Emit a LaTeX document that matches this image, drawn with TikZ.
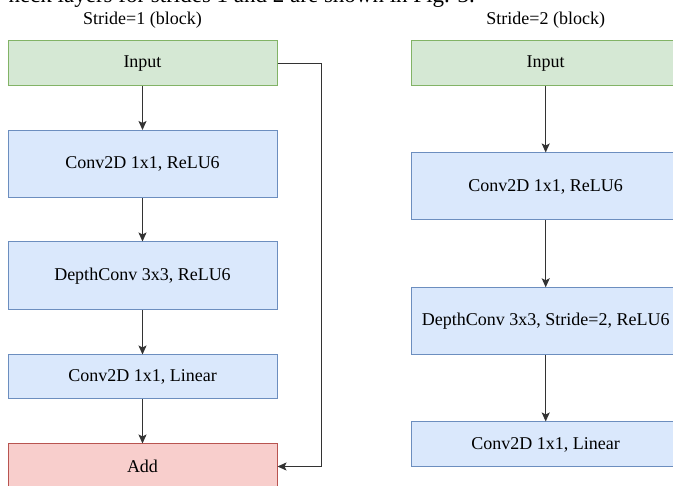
\documentclass[tikz,border=0pt]{standalone}
\usepackage{fontspec}
\setmainfont{Liberation Serif}
\usetikzlibrary{arrows.meta}
\definecolor{gfill}{HTML}{D5E8D4}\definecolor{gline}{HTML}{82B366}
\definecolor{bfill}{HTML}{DAE8FC}\definecolor{bline}{HTML}{6C8EBF}
\definecolor{rfill}{HTML}{F8CECC}\definecolor{rline}{HTML}{B85450}
\definecolor{conn}{HTML}{333333}
\tikzset{
  box/.style={rectangle, draw, line width=1pt, minimum width=269pt, inner sep=0pt,
    font=\fontsize{18}{21}\selectfont},
  inbox/.style={box, fill=gfill, draw=gline},
  opbox/.style={box, fill=bfill, draw=bline},
  addbox/.style={box, fill=rfill, draw=rline},
  title/.style={anchor=base, inner sep=0pt, font=\fontsize{18}{21}\selectfont},
  flow/.style={draw=conn, line width=1.3pt, -{Stealth[length=9pt,width=8pt,inset=2pt]}}
}
\begin{document}
\begin{tikzpicture}[x=1pt,y=-1pt]
\useasboundingbox (0,0) rectangle (673,486);
\clip (0,0) rectangle (673,486);
% clipped text line from the page above
\node[anchor=base east, inner sep=0pt, font=\fontsize{23}{26}\selectfont] (para) at (475,2.5) {neck layers for strides 1 and 2 are shown in Fig. 3.};
% titles
\node[title] (t1) at (142.5,25) {Stride=1 (block)};
\node[title] (t2) at (545.7,25) {Stride=2 (block)};
% left column
\node[inbox, minimum height=45pt] (in1) at (142.5,63.5) {Input};
\node[opbox, minimum height=67.5pt] (c1) at (142.5,164.25) {Conv2D 1x1, ReLU6};
\node[opbox, minimum height=68pt] (d1) at (142.5,276) {DepthConv 3x3, ReLU6};
\node[opbox, minimum height=44pt] (l1) at (142.5,377) {Conv2D 1x1, Linear};
\node[addbox, minimum height=45pt] (add) at (142.5,466.5) {Add};
\coordinate (k1) at (321.7,63.5);
\coordinate (k2) at (321.7,466.5);
\draw[flow] (in1) -- (c1);
\draw[flow] (c1) -- (d1);
\draw[flow] (d1) -- (l1);
\draw[flow] (l1) -- (add);
\draw[flow] (in1.east) -- (k1) -- (k2) -- (add.east);
% right column
\node[inbox, minimum height=45pt] (in2) at (545.7,63.5) {Input};
\node[opbox, minimum height=67pt] (c2) at (545.7,186.5) {Conv2D 1x1, ReLU6};
\node[opbox, minimum height=67pt] (d2) at (545.7,321.3) {DepthConv 3x3, Stride=2, ReLU6};
\node[opbox, minimum height=45pt] (l2) at (545.7,444.5) {Conv2D 1x1, Linear};
\draw[flow] (in2) -- (c2);
\draw[flow] (c2) -- (d2);
\draw[flow] (d2) -- (l2);
\end{tikzpicture}
\end{document}
